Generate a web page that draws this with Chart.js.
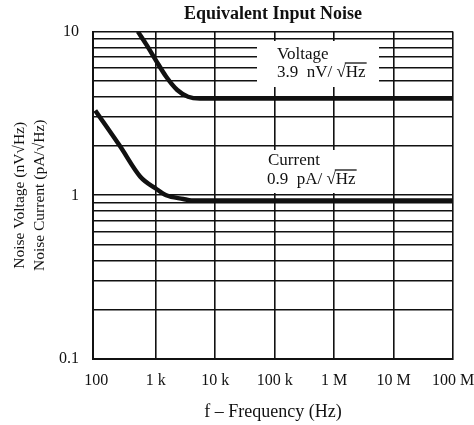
<!DOCTYPE html>
<html>
<head>
<meta charset="utf-8">
<script src="https://cdn.jsdelivr.net/npm/chart.js@4.4.1/dist/chart.umd.min.js"></script>
<style>
    html, body { margin: 0; padding: 0; background: #fff; }
    #wrap { width: 474px; height: 425px; }
</style>
</head>
<body>
<div id="wrap"><canvas id="noiseChart"></canvas></div>
<script>
// values
const voltageFreq = [500, 700, 1000, 1500, 2300, 3500, 5500, 1e8];
const voltageVals = [10, 8.3, 6.7, 5.3, 4.4, 4.0, 3.9, 3.9];
const currentFreq = [96, 250, 550, 1000, 1500, 2900, 4000, 1e8];
const currentVals = [3.3, 2.0, 1.3, 1.1, 1.0, 0.95, 0.93, 0.93];

const xTickVals = [100, 1e3, 1e4, 1e5, 1e6, 1e7, 1e8];
const xTickLabels = ['100', '1 k', '10 k', '100 k', '1 M', '10 M', '100 M'];
const yTickVals = [0.1, 0.2, 0.3, 0.4, 0.5, 0.6, 0.7, 0.8, 0.9,
                   1, 2, 3, 4, 5, 6, 7, 8, 9, 10];
const yTickLabels = { 0.1: '0.1', 1: '1', 10: '10' };

const SERIF = "'Liberation Serif', 'DejaVu Serif', serif";
const INK = '#111';

function toPoints(xs, ys) {
    return xs.map((x, i) => ({ x: x, y: ys[i] }));
}

// writes "pre √Hz" with a bar over Hz
function rootText(ctx, x, y, pre) {
    ctx.fillText(pre, x, y);
    const rx = x + ctx.measureText(pre).width;
    ctx.fillText('\u221A', rx, y);
    const rw = ctx.measureText('\u221A').width;
    ctx.fillText('Hz', rx + rw, y);
    const hw = ctx.measureText('Hz').width;
    ctx.beginPath();
    ctx.lineWidth = 1.3;
    ctx.moveTo(rx + rw - 1, y - 10);
    ctx.lineTo(rx + rw + hw + 1, y - 10);
    ctx.stroke();
}

const notesPlugin = {
    id: 'notes',
    beforeDatasetsDraw(chart) {
        const ctx = chart.ctx;
        ctx.save();
        ctx.fillStyle = '#fff';
        ctx.fillRect(257, 41, 122, 46);
        ctx.fillRect(258, 150, 132, 43);

        ctx.fillStyle = INK;
        ctx.strokeStyle = INK;
        ctx.font = '17px ' + SERIF;
        ctx.textBaseline = 'middle';
        ctx.textAlign = 'left';
        ctx.fillText('Voltage', 277, 55);
        rootText(ctx, 277, 73, '3.9  nV/ ');
        ctx.fillText('Current', 268, 161);
        rootText(ctx, 267, 180, '0.9  pA/ ');
        ctx.restore();
    }
};

const ctx = document.getElementById('noiseChart').getContext('2d');
new Chart(ctx, {
    type: 'scatter',
    data: {
        datasets: [{
            label: 'Voltage',
            data: toPoints(voltageFreq, voltageVals),
            showLine: true,
            borderColor: INK,
            borderWidth: 4.5,
            pointRadius: 0,
            cubicInterpolationMode: 'monotone'
        }, {
            label: 'Current',
            data: toPoints(currentFreq, currentVals),
            showLine: true,
            borderColor: INK,
            borderWidth: 4.5,
            pointRadius: 0,
            cubicInterpolationMode: 'monotone'
        }]
    },
    options: {
        responsive: true,
        maintainAspectRatio: false,
        animation: false,
        layout: { padding: { right: 21 } },
        scales: {
            x: {
                type: 'logarithmic',
                min: 88,
                max: 1e8,
                afterBuildTicks: s => { s.ticks = xTickVals.map(v => ({ value: v })); },
                afterFit: s => { s.height = 66; s.paddingLeft = 0; s.paddingRight = 0; },
                ticks: {
                    autoSkip: false,
                    maxRotation: 0,
                    padding: 12,
                    color: INK,
                    font: { family: SERIF, size: 16 },
                    callback: (v, i) => xTickLabels[i]
                },
                grid: {
                    drawTicks: false,
                    lineWidth: 1.6,
                    color: c => (c.tick && c.tick.value === 100) ? 'rgba(0,0,0,0)' : INK
                },
                border: { color: INK, width: 2 },
                title: {
                    display: true,
                    text: 'f \u2013 Frequency (Hz)',
                    color: INK,
                    font: { family: SERIF, size: 18 },
                    padding: { top: 0, bottom: 2 }
                }
            },
            y: {
                type: 'logarithmic',
                min: 0.1,
                max: 10,
                afterBuildTicks: s => { s.ticks = yTickVals.map(v => ({ value: v })); },
                afterFit: s => { s.width = 93; s.paddingTop = 0; s.paddingBottom = 0; },
                ticks: {
                    autoSkip: false,
                    padding: 14,
                    color: INK,
                    font: { family: SERIF, size: 16 },
                    callback: v => yTickLabels[v] || ''
                },
                grid: { drawTicks: false, lineWidth: 1.6, color: INK },
                border: { color: INK, width: 2 },
                title: {
                    display: true,
                    text: ['Noise Voltage (nV\u221AHz)', 'Noise Current (pA/\u221AHz)'],
                    color: INK,
                    font: { family: SERIF, size: 15.5, lineHeight: 1.3 },
                    padding: { top: 10, bottom: 0 }
                }
            }
        },
        plugins: {
            legend: { display: false },
            tooltip: { enabled: false },
            title: {
                display: true,
                fullSize: false,
                text: 'Equivalent Input Noise',
                color: INK,
                font: { family: SERIF, size: 18, weight: 'bold' },
                padding: { top: 4, bottom: 6 }
            }
        }
    },
    plugins: [notesPlugin]
});
</script>
</body>
</html>
